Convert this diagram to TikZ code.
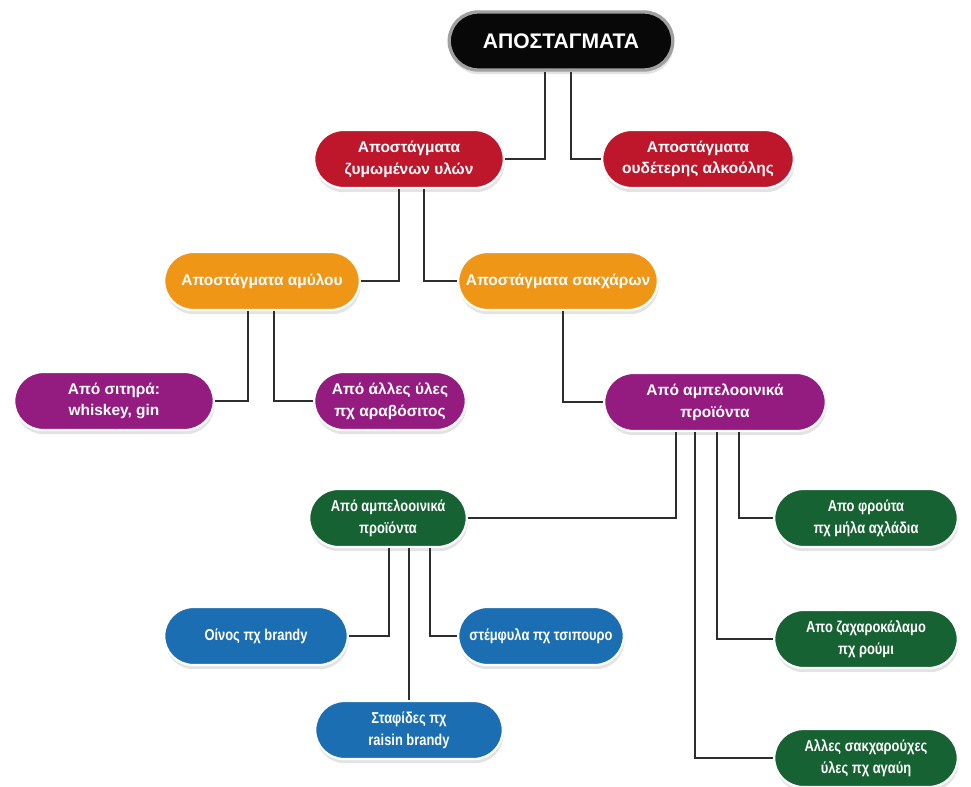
\documentclass[tikz,border=0pt]{standalone}
\usepackage{fontspec}
\setmainfont{Liberation Sans}
\newfontfamily\narrowsans[FakeStretch=0.82]{Liberation Sans}
\usetikzlibrary{shapes.misc,calc,shadows}
\definecolor{topblack}{RGB}{8,8,8}
\definecolor{topgray}{RGB}{160,160,160}
\definecolor{distred}{RGB}{190,22,42}
\definecolor{distorange}{RGB}{240,150,22}
\definecolor{distpurple}{RGB}{148,28,128}
\definecolor{distgreen}{RGB}{22,98,50}
\definecolor{distblue}{RGB}{28,110,178}
\definecolor{linegray}{RGB}{45,45,45}
\tikzset{
  pill/.style={rounded rectangle,draw=white,line width=1.6pt,text=white,align=center,
    font=\fontsize{11}{15.5}\selectfont\bfseries,minimum height=1.45cm,inner xsep=3pt,
    drop shadow={opacity=0.22,shadow xshift=0.6pt,shadow yshift=-3pt}},
  narrowpill/.style={pill,font=\narrowsans\fontsize{11.2}{15.5}\selectfont\bfseries},
  topnode/.style={pill,fill=topblack,draw=topgray,line width=2.4pt,
    font=\fontsize{15}{18}\selectfont\bfseries},
  rednode/.style={pill,fill=distred},
  orangenode/.style={pill,fill=distorange},
  purplenode/.style={pill,fill=distpurple},
  greennode/.style={narrowpill,fill=distgreen},
  bluenode/.style={narrowpill,fill=distblue},
  conn/.style={draw=linegray,line width=1.1pt}
}

\begin{document}
\begin{tikzpicture}[x=0.025cm,y=-0.025cm]
  \useasboundingbox (0,0) rectangle (971,787);
  % level 0 and 1
  \node[topnode,minimum width=5.8cm] (top) at (561,41) {ΑΠΟΣΤΑΓΜΑΤΑ};
  \node[rednode,minimum width=4.95cm] (zym) at (409,159) {Αποστάγματα\\ζυμωμένων υλών};
  \node[rednode,minimum width=5cm] (oudet) at (698,159) {Αποστάγματα\\ουδέτερης αλκοόλης};
  % level 2
  \node[orangenode,minimum width=5.1cm] (amyl) at (262,281) {Αποστάγματα αμύλου};
  \node[orangenode,minimum width=5.2cm] (sakch) at (558,281) {Αποστάγματα σακχάρων};
  % level 3
  \node[purplenode,minimum width=5.2cm] (sitira) at (114,401) {Από σιτηρά:\\whiskey, gin};
  \node[purplenode,minimum width=4cm] (alles) at (390,401) {Από άλλες ύλες\\πχ αραβόσιτος};
  \node[purplenode,minimum width=5.75cm] (ampel) at (715,402) {Από αμπελοοινικά\\προϊόντα};
  % level 4
  \node[greennode,minimum width=4.15cm] (ampelgr) at (388,518) {Από αμπελοοινικά\\προϊόντα};
  \node[greennode,minimum width=4.8cm] (frouta) at (866,518) {Απο φρούτα\\πχ μήλα αχλάδια};
  \node[greennode,minimum width=4.8cm] (zachar) at (866,639) {Απο ζαχαροκάλαμο\\πχ ρούμι};
  \node[greennode,minimum width=4.8cm] (agavi) at (866,758) {Αλλες σακχαρούχες\\ύλες πχ αγαύη};
  % level 5
  \node[bluenode,minimum width=4.8cm] (oinos) at (256,636) {Οίνος πχ brandy};
  \node[bluenode,minimum width=4.35cm] (stemfyla) at (541,636) {στέμφυλα πχ τσιπουρο};
  \node[bluenode,minimum width=4.9cm] (stafides) at (409,730) {Σταφίδες πχ\\raisin brandy};
  % connectors
  \foreach \a/\d/\b in {top/-16/zym,top/10/oudet,zym/-10/amyl,zym/15/sakch,
      amyl/-14/sitira,amyl/12/alles,sakch/5/ampel,ampel/-39/ampelgr,
      ampel/-20/agavi,ampel/2/zachar,ampel/24/frouta,ampelgr/1/oinos,ampelgr/42/stemfyla}
    \draw[conn] ($(\a.south)+(\d,0)$) |- (\b);
  \draw[conn] ($(ampelgr.south)+(21,0)$) -- (stafides);
\end{tikzpicture}
\end{document}
